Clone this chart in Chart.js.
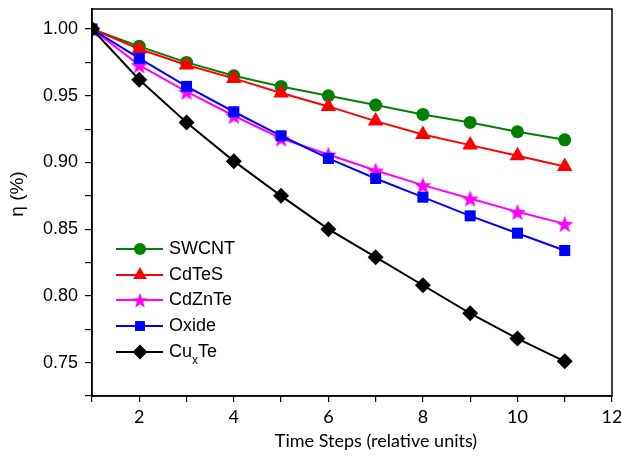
<!DOCTYPE html>
<html>
<head>
<meta charset="utf-8">
<script src="https://cdn.jsdelivr.net/npm/chart.js@4.4.1/dist/chart.umd.min.js"></script>
<style>
  html, body { margin: 0; padding: 0; background: #fff; }
  #wrap { width: 621px; height: 459px; position: relative; }
</style>
</head>
<body>
<div id="wrap"><canvas id="lineChart"></canvas></div>
<script>
// data
var steps = [1, 2, 3, 4, 5, 6, 7, 8, 9, 10, 11];
var swcnt  = [1.000, 0.987, 0.975, 0.965, 0.957, 0.950, 0.943, 0.936, 0.930, 0.923, 0.917];
var cdtes  = [1.000, 0.985, 0.973, 0.963, 0.952, 0.942, 0.931, 0.921, 0.913, 0.905, 0.897];
var cdznte = [1.000, 0.973, 0.953, 0.935, 0.918, 0.906, 0.894, 0.883, 0.873, 0.863, 0.854];
var oxide  = [1.000, 0.978, 0.957, 0.938, 0.920, 0.903, 0.888, 0.874, 0.860, 0.847, 0.834];
var cuxte  = [1.000, 0.962, 0.930, 0.901, 0.875, 0.850, 0.829, 0.808, 0.787, 0.768, 0.751];

var xTicks = [2, 4, 6, 8, 10, 12];
var yTicks = [0.75, 0.80, 0.85, 0.90, 0.95, 1.00];

function makeStar(color, r) {
  var c = document.createElement('canvas');
  var s = Math.ceil(r * 2) + 2;
  c.width = s; c.height = s;
  var g = c.getContext('2d');
  g.beginPath();
  for (var i = 0; i < 10; i++) {
    var rad = (i % 2 === 0) ? r : r * 0.42;
    var a = -Math.PI / 2 + i * Math.PI / 5;
    var px = s / 2 + Math.cos(a) * rad, py = s / 2 + 1 + Math.sin(a) * rad;
    if (i === 0) g.moveTo(px, py); else g.lineTo(px, py);
  }
  g.closePath();
  g.fillStyle = color;
  g.fill();
  return c;
}

var starBig = makeStar('#ff00ff', 9);
var starSmall = makeStar('#ff00ff', 8);

function pts(vals) {
  return vals.map(function(v, i) { return { x: steps[i], y: v }; });
}

var series = [
  { label: 'SWCNT',  data: swcnt,  color: '#008000', style: 'circle',   r: 6.5, lr: 6,   order: 5 },
  { label: 'CdTeS',  data: cdtes,  color: '#ff0000', style: 'triangle', r: 9,   lr: 8,   order: 4 },
  { label: 'CdZnTe', data: cdznte, color: '#ff00ff', style: starBig,    r: 9,   lr: 8,   order: 3 },
  { label: 'Oxide',  data: oxide,  color: '#0000ff', style: 'rect',     r: 7.8, lr: 7,   order: 2 },
  { label: 'CuxTe',  data: cuxte,  color: '#000000', style: 'rectRot',  r: 8,   lr: 7.5, order: 1 }
];

var datasets = series.map(function(s) {
  return {
    label: s.label,
    data: pts(s.data),
    borderColor: s.color,
    backgroundColor: s.color,
    borderWidth: 2,
    pointStyle: s.style,
    pointRadius: s.r,
    pointBorderWidth: 0,
    pointHoverRadius: s.r,
    order: s.order
  };
});

// box, axis titles and the legend (CuxTe needs a subscript)
var extras = {
  id: 'extras',
  afterDraw: function(chart) {
    var ctx = chart.ctx, a = chart.chartArea;
    ctx.save();
    ctx.strokeStyle = '#000';
    ctx.lineWidth = 1.5;
    ctx.strokeRect(a.left, a.top, a.right - a.left, a.bottom - a.top);

    ctx.fillStyle = '#000';
    ctx.textBaseline = 'middle';
    ctx.textAlign = 'center';
    ctx.font = '18px Lato';
    ctx.fillText('Time Steps (relative units)', 376, 441);

    ctx.save();
    ctx.translate(18, 194);
    ctx.rotate(-Math.PI / 2);
    ctx.font = '19px "Liberation Sans"';
    ctx.fillText('\u03b7 (%)', 0, 0);
    ctx.restore();

    // legend
    var ly = [249, 275, 300, 326, 352];
    ctx.textAlign = 'left';
    ctx.font = '18px "Liberation Sans"';
    series.forEach(function(s, i) {
      var y = ly[i];
      ctx.strokeStyle = s.color;
      ctx.lineWidth = 2;
      ctx.beginPath();
      ctx.moveTo(116, y);
      ctx.lineTo(163, y);
      ctx.stroke();
      ctx.fillStyle = s.color;
      Chart.helpers.drawPoint(ctx, {
        pointStyle: s.style === starBig ? starSmall : s.style,
        radius: s.lr,
        borderWidth: 0,
        rotation: 0
      }, 140, y);
      ctx.fillStyle = '#000';
      if (s.label === 'CuxTe') {
        ctx.fillText('Cu', 169, y);
        var w = ctx.measureText('Cu').width;
        ctx.font = '12px "Liberation Sans"';
        ctx.fillText('x', 169 + w, y + 9);
        var wx = ctx.measureText('x').width;
        ctx.font = '18px "Liberation Sans"';
        ctx.fillText('Te', 169 + w + wx, y);
      } else {
        ctx.fillText(s.label, 169, y);
      }
    });
    ctx.restore();
  }
};

var ctx = document.getElementById('lineChart').getContext('2d');
var myChart = new Chart(ctx, {
  type: 'line',
  data: { datasets: datasets },
  options: {
    responsive: true,
    maintainAspectRatio: false,
    animation: false,
    layout: { padding: { top: 4, right: 9, left: 0, bottom: 0 } },
    plugins: {
      legend: { display: false },
      tooltip: { enabled: false }
    },
    scales: {
      x: {
        type: 'linear',
        min: 1,
        max: 12,
        border: { display: true, color: '#000', width: 1.5 },
        grid: { drawOnChartArea: false, color: '#000', lineWidth: 1.2, tickLength: 6 },
        afterBuildTicks: function(scale) {
          var t = [];
          for (var v = 1; v <= 12; v++) t.push({ value: v });
          scale.ticks = t;
        },
        ticks: {
          autoSkip: false,
          maxRotation: 0,
          padding: 4,
          color: '#000',
          font: { family: 'Lato', size: 18 },
          callback: function(v) { return xTicks.indexOf(v) >= 0 ? String(v) : ''; }
        },
        afterFit: function(scale) {
          scale.height = 63;
          scale.paddingLeft = 0;
          scale.paddingRight = 0;
        }
      },
      y: {
        type: 'linear',
        min: 0.725,
        max: 1.015,
        border: { display: true, color: '#000', width: 1.5 },
        grid: { drawOnChartArea: false, color: '#000', lineWidth: 1.2, tickLength: 7 },
        afterBuildTicks: function(scale) {
          var t = [];
          for (var k = 0; k <= 11; k++) t.push({ value: Math.round((0.725 + k * 0.025) * 1000) / 1000 });
          scale.ticks = t;
        },
        ticks: {
          autoSkip: false,
          padding: 7,
          color: '#000',
          font: { family: 'Liberation Sans', size: 18 },
          callback: function(v) {
            for (var i = 0; i < yTicks.length; i++) {
              if (Math.abs(yTicks[i] - v) < 1e-6) return v.toFixed(2);
            }
            return '';
          }
        },
        afterFit: function(scale) {
          scale.width = 92;
          scale.paddingTop = 0;
          scale.paddingBottom = 0;
        }
      }
    }
  },
  plugins: [extras]
});
</script>
</body>
</html>
